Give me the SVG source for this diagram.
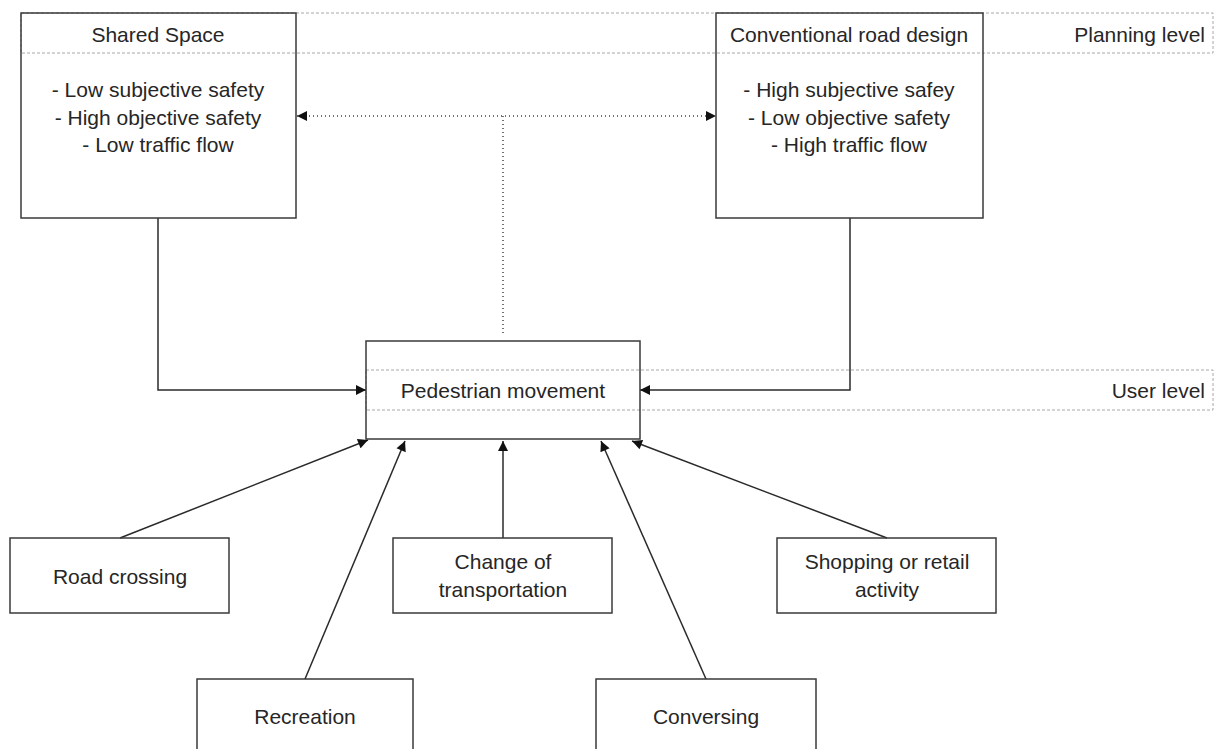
<svg xmlns="http://www.w3.org/2000/svg" width="1215" height="749" viewBox="0 0 1215 749">
<style>
.box{fill:none;stroke:#3a3a3a;stroke-width:1.5}
.lane{fill:none;stroke:#a8a8a8;stroke-width:1;stroke-dasharray:3,2}
.t{font-family:"Liberation Sans",Arial,sans-serif;font-size:21px;fill:#262626;text-anchor:middle}
.te{font-family:"Liberation Sans",Arial,sans-serif;font-size:21px;fill:#262626;text-anchor:end}
.c{fill:none;stroke:#2a2a2a;stroke-width:1.5}
.d{fill:none;stroke:#444;stroke-width:1.5;stroke-dasharray:1,3}
</style>
<defs>
<marker id="ah" viewBox="0 0 10 10" refX="10" refY="5" markerWidth="12" markerHeight="10" markerUnits="userSpaceOnUse" orient="auto-start-reverse">
<path d="M0,0 L10,5 L0,10 z" fill="#111"/>
</marker>
</defs>
<rect width="1215" height="749" fill="#fff"/>
<g id="lanes">
<rect class="lane" x="21" y="13" width="1192" height="40"/>
<rect class="lane" x="366" y="370" width="847" height="40"/>
<text class="te" x="1205" y="42">Planning level</text>
<text class="te" x="1205" y="398">User level</text>
</g>
<g id="connectors">
<path class="d" d="M297,116 H716" marker-start="url(#ah)" marker-end="url(#ah)"/>
<path class="d" d="M503,116 V336"/>
<path class="c" d="M158,218 V390 H366" marker-end="url(#ah)"/>
<path class="c" d="M850,218 V390 H640" marker-end="url(#ah)"/>
<path class="c" d="M120,538 L368,440" marker-end="url(#ah)"/>
<path class="c" d="M305,679 L405,441" marker-end="url(#ah)"/>
<path class="c" d="M503,538 V441" marker-end="url(#ah)"/>
<path class="c" d="M706,679 L601,441" marker-end="url(#ah)"/>
<path class="c" d="M887,538 L632,441" marker-end="url(#ah)"/>
</g>
<g id="shared-space">
<rect class="box" x="21" y="13" width="275" height="205"/>
<text class="t" x="158" y="42">Shared Space</text>
<text class="t" x="158" y="97">- Low subjective safety</text>
<text class="t" x="158" y="125">- High objective safety</text>
<text class="t" x="158" y="152">- Low traffic flow</text>
</g>
<g id="conventional">
<rect class="box" x="716" y="13" width="267" height="205"/>
<text class="t" x="849" y="42">Conventional road design</text>
<text class="t" x="849" y="97">- High subjective safey</text>
<text class="t" x="849" y="125">- Low objective safety</text>
<text class="t" x="849" y="152">- High traffic flow</text>
</g>
<g id="pedestrian">
<rect class="box" x="366" y="341" width="274" height="98"/>
<text class="t" x="503" y="398">Pedestrian movement</text>
</g>
<g id="road-crossing">
<rect class="box" x="10" y="538" width="219" height="75"/>
<text class="t" x="120" y="584">Road crossing</text>
</g>
<g id="change">
<rect class="box" x="393" y="538" width="219" height="75"/>
<text class="t" x="503" y="569">Change of</text>
<text class="t" x="503" y="597">transportation</text>
</g>
<g id="shopping">
<rect class="box" x="777" y="538" width="219" height="75"/>
<text class="t" x="887" y="569">Shopping or retail</text>
<text class="t" x="887" y="597">activity</text>
</g>
<g id="recreation">
<rect class="box" x="197" y="679" width="216" height="80"/>
<text class="t" x="305" y="724">Recreation</text>
</g>
<g id="conversing">
<rect class="box" x="596" y="679" width="220" height="80"/>
<text class="t" x="706" y="724">Conversing</text>
</g>
</svg>
